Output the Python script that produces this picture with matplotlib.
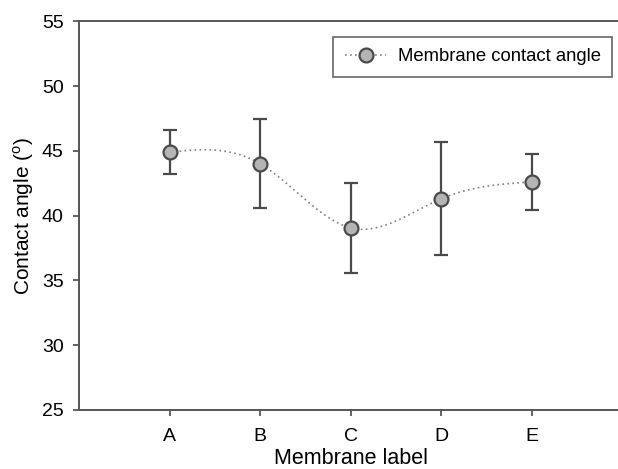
import numpy as np
import matplotlib
matplotlib.use("Agg")
import matplotlib.pyplot as plt

plt.rcParams["font.family"] = ["Liberation Sans", "DejaVu Sans"]
plt.rcParams["mathtext.fontset"] = "custom"
plt.rcParams["mathtext.rm"] = "Liberation Sans"

labels = ["A", "B", "C", "D", "E"]
angle = [44.9, 44.0, 39.05, 41.3, 42.6]
err = [1.7, 3.45, 3.5, 4.35, 2.15]

DARK = "#4a4a4a"


def natural_spline(x, y, n=300):
    # natural cubic spline, only used to draw the smooth connecting line
    x = np.asarray(x, float)
    y = np.asarray(y, float)
    k = len(x)
    h = np.diff(x)
    A = np.zeros((k, k))
    b = np.zeros(k)
    A[0, 0] = A[-1, -1] = 1
    for i in range(1, k - 1):
        A[i, i - 1] = h[i - 1]
        A[i, i] = 2 * (h[i - 1] + h[i])
        A[i, i + 1] = h[i]
        b[i] = 6 * ((y[i + 1] - y[i]) / h[i] - (y[i] - y[i - 1]) / h[i - 1])
    M = np.linalg.solve(A, b)
    xs = np.linspace(x[0], x[-1], n)
    idx = np.clip(np.searchsorted(x, xs) - 1, 0, k - 2)
    x0, x1 = x[idx], x[idx + 1]
    hh = x1 - x0
    ys = (M[idx] * (x1 - xs) ** 3 / (6 * hh) + M[idx + 1] * (xs - x0) ** 3 / (6 * hh)
          + (y[idx] / hh - M[idx] * hh / 6) * (x1 - xs)
          + (y[idx + 1] / hh - M[idx + 1] * hh / 6) * (xs - x0))
    return xs, ys


pos = np.arange(1, len(labels) + 1)

fig = plt.figure(figsize=(6.18, 4.69), dpi=100)
ax = fig.add_axes([0.1278, 0.126, 0.8795, 0.8286])

xs, ys = natural_spline(pos, angle)
ax.plot(xs, ys, linestyle=(0, (1, 2)), color="#808080", linewidth=1.2, zorder=2)
ax.errorbar(pos, angle, yerr=err, fmt="none", ecolor=DARK, elinewidth=1.6,
            capsize=5, capthick=1.6, zorder=3)
ax.plot(pos, angle, "o", markersize=10, markerfacecolor="#b4b4b4",
        markeredgecolor=DARK, markeredgewidth=1.6, zorder=4)

# legend handle: dotted line + marker
h, = ax.plot([], [], linestyle=(0, (1, 2)), color="#808080", linewidth=1.2,
             marker="o", markersize=10, markerfacecolor="#b4b4b4",
             markeredgecolor=DARK, markeredgewidth=1.6)
leg = ax.legend([h], ["Membrane contact angle"], loc="upper right",
                bbox_to_anchor=(0.9807, 0.9596), borderaxespad=0,
                fancybox=False, framealpha=1, edgecolor="#666666",
                fontsize=13.3, handlelength=2.25, borderpad=0.62,
                handletextpad=0.6)
leg.get_frame().set_linewidth(1.2)

ax.set_xlim(0, 6)
ax.set_ylim(25, 55)
ax.set_xticks(pos)
ax.set_xticklabels(labels)
ax.set_yticks(np.arange(25, 56, 5))
ax.tick_params(direction="out", length=4, width=1.2, color=DARK,
               labelsize=14, pad=7, top=False, right=False)
ax.tick_params(axis="x", pad=9)
for s in ["left", "bottom", "top"]:
    ax.spines[s].set_color("#555555")
    ax.spines[s].set_linewidth(1.4)
ax.spines["right"].set_visible(False)

ax.set_xlabel("Membrane label", fontsize=15.5, labelpad=2)
ax.set_ylabel("Contact angle ($^{\\mathrm{o}}$)", fontsize=15, labelpad=4)

fig.savefig("out.png", dpi=100)
